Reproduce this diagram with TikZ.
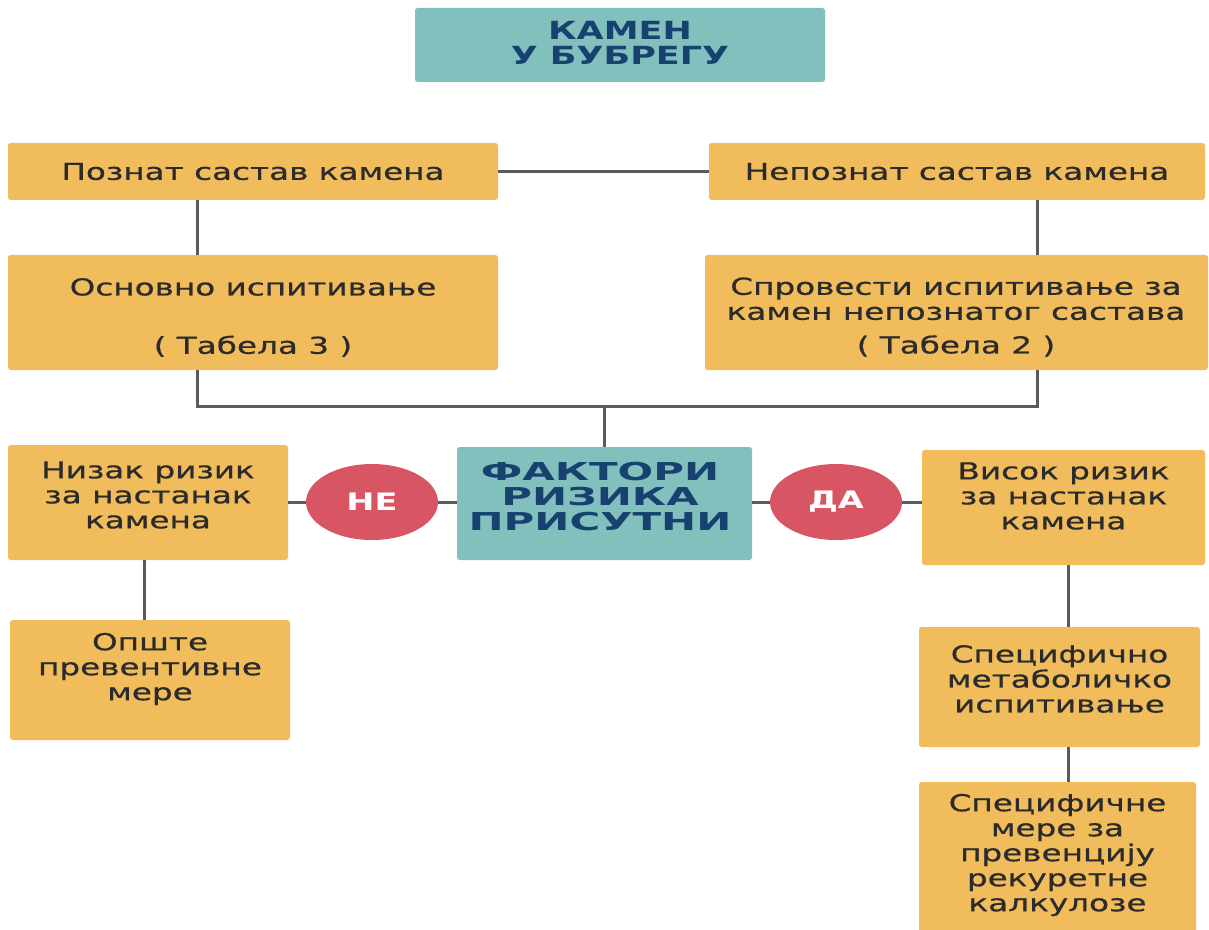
\documentclass[tikz,border=0pt]{standalone}
\usepackage{fontspec}
\setmainfont{DejaVu Sans}[FakeStretch=1.4]
\newfontfamily\bodyfont{DejaVu Sans}[FakeStretch=1.4, FakeBold=0.6]
\newfontfamily\widefont{DejaVu Sans}[FakeStretch=1.7]
\usetikzlibrary{shapes.geometric}

\definecolor{boxorange}{HTML}{F0BC5C}
\definecolor{boxteal}{HTML}{82C0BE}
\definecolor{dotred}{HTML}{D85663}
\definecolor{headblue}{HTML}{17426F}
\definecolor{bodyink}{HTML}{2B2B2B}
\definecolor{wire}{HTML}{5A5A5A}

% rectangle node from pixel corners: name, x1, y1, x2, y2, style
\newcommand\mkbox[6]{%
  \node[#6, minimum width={(#4-#2)*0.75pt}, minimum height={(#5-#3)*0.75pt}]
    (#1) at ({(#2+#4)/2},{(#3+#5)/2}) {};}

\begin{document}
\begin{tikzpicture}[x=0.75pt, y=-0.75pt,
  obox/.style={fill=boxorange, rounded corners=2pt, inner sep=0pt, outer sep=0pt},
  tbox/.style={fill=boxteal, rounded corners=2pt, inner sep=0pt, outer sep=0pt},
  dot/.style={ellipse, fill=dotred, inner sep=0pt, outer sep=0pt,
    minimum width=99pt, minimum height=57pt, text=white,
    font=\fontsize{18}{18}\selectfont\bfseries},
  btxt/.style={align=center, text=bodyink, inner sep=0pt,
    font=\bodyfont\fontsize{17.5}{18.75}\selectfont},
  htxt/.style={align=center, text=headblue, inner sep=0pt,
    font=\fontsize{18.75}{18.75}\selectfont\bfseries},
  fhtxt/.style={htxt, font=\widefont\fontsize{18.5}{18.75}\selectfont\bfseries},
  wireline/.style={draw=wire, line width=2.25pt}]

\clip (0,0) rectangle (1209,930);
\fill[white] (0,0) rectangle (1209,930);

% boxes
\mkbox{title}{415}{8}{825}{82}{tbox}
\mkbox{known}{8}{143}{498}{200}{obox}
\mkbox{unknown}{709}{143}{1205}{200}{obox}
\mkbox{basic}{8}{255}{498}{370}{obox}
\mkbox{extra}{705}{255}{1208}{370}{obox}
\mkbox{factors}{457}{447}{752}{560}{tbox}
\mkbox{low}{8}{445}{288}{560}{obox}
\mkbox{high}{922}{450}{1205}{565}{obox}
\mkbox{general}{10}{620}{290}{740}{obox}
\mkbox{metab}{919}{627}{1200}{747}{obox}
\mkbox{specific}{919}{782}{1196}{940}{obox}

\node[dot] (no) at (372,502) {НЕ};
\node[dot] (yes) at (836,502) {ДА};

% texts
\node[htxt] (title-t) at (620,42.5) {КАМЕН\\У БУБРЕГУ};
\node[btxt] (known-t) at (known.center) {Познат састав камена};
\node[btxt] (unknown-t) at (unknown.center) {Непознат састав камена};
\node[btxt] (basic-t) at (253,317.5) {Основно испитивање\\[25pt]( Табела 3 )};
\node[btxt] (extra-t) at (956,317) {Спровести испитивање за\\камен непознатог састава\\[6.5pt]( Табела 2 )};
\node[fhtxt] (factors-t) at (600,497) {ФАКТОРИ\\РИЗИКА\\ПРИСУТНИ};
\node[btxt] (low-t) at (148,495) {Низак ризик\\за настанак\\камена};
\node[btxt] (high-t) at (1063.5,496) {Висок ризик\\за настанак\\камена};
\node[btxt] (general-t) at (150,669) {Опште\\превентивне\\мере};
\node[btxt] (metab-t) at (1059.5,679) {Специфично\\метаболичко\\испитивање};
\node[btxt] (specific-t) at (1057.5,855) {Специфичне\\мере за\\превенцију\\рекуретне\\калкулозе};

% guide coordinates for the connector columns and the bus
\coordinate (xl) at (197,0);
\coordinate (xr) at (1037,0);
\coordinate (xn) at (144,0);
\coordinate (xv) at (1068,0);
\coordinate (bus) at (0,406);

% connectors
\draw[wireline] (known.east) -- (unknown.west);
\draw[wireline] (known.south -| xl) -- (basic.north -| xl);
\draw[wireline] (unknown.south -| xr) -- (extra.north -| xr);
\draw[wireline] (basic.south -| xl) -- (xl |- bus) -- (xr |- bus) -- (extra.south -| xr);
\draw[wireline] (factors.north |- bus) -- (factors.north);
\draw[wireline] (no.east) -- (factors.west |- no.east);
\draw[wireline] (no.west) -- (low.east |- no.west);
\draw[wireline] (yes.west) -- (factors.east |- yes.west);
\draw[wireline] (yes.east) -- (high.west |- yes.east);
\draw[wireline] (low.south -| xn) -- (general.north -| xn);
\draw[wireline] (high.south -| xv) -- (metab.north -| xv);
\draw[wireline] (metab.south -| xv) -- (specific.north -| xv);
\end{tikzpicture}
\end{document}
